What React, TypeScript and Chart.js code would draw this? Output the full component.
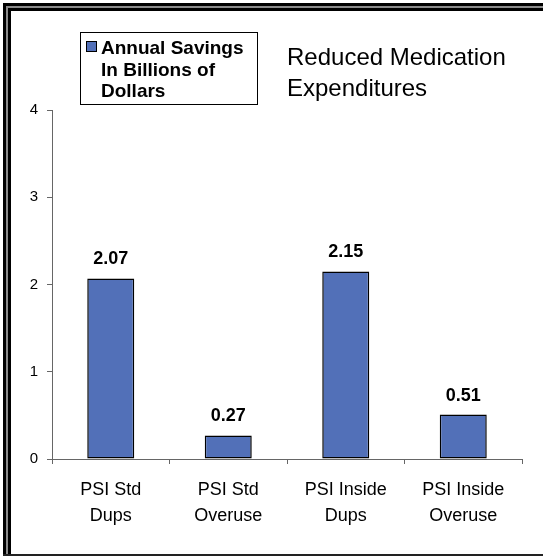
import React, { useEffect, useRef } from 'react';
import { Chart, registerables } from 'chart.js';

Chart.register(...registerables);

// ---- data ----
const categories: string[][] = [
  ['PSI Std', 'Dups'],
  ['PSI Std', 'Overuse'],
  ['PSI Inside', 'Dups'],
  ['PSI Inside', 'Overuse'],
];
const savings: number[] = [2.07, 0.27, 2.15, 0.51];
const yTickValues: number[] = [0, 1, 2, 3, 4];
const seriesLabel = 'Annual Savings In Billions of Dollars';
const legendLines: string[] = ['Annual Savings', 'In Billions of', 'Dollars'];
const titleLines: string[] = ['Reduced Medication', 'Expenditures'];

const BAR_COLOR = '#5270B8';
const AXIS_COLOR = '#666666';
const FONT = '"Liberation Sans", Arial, sans-serif';

const framePlugin = {
  id: 'frame',
  beforeDraw(chart: any) {
    const ctx = chart.ctx;
    const w = chart.width;
    const h = chart.height;
    ctx.save();
    ctx.fillStyle = '#ffffff';
    ctx.fillRect(0, 0, w, h);
    ctx.fillStyle = '#000000';
    ctx.fillRect(3, 3, 3, h - 3);
    ctx.fillRect(3, 3, w - 3, 3);
    ctx.fillStyle = '#8a8a8a';
    ctx.fillRect(6, 6, 2, h - 6);
    ctx.fillRect(6, 6, w - 6, 2);
    ctx.fillStyle = '#000000';
    ctx.fillRect(8, 8, 3, h - 8);
    ctx.fillRect(8, 8, w - 8, 3);
    ctx.fillStyle = '#222222';
    ctx.fillRect(3, h - 2, w - 3, 2);
    ctx.restore();
  },
};

const headerPlugin = {
  id: 'header',
  afterDraw(chart: any) {
    const ctx = chart.ctx;
    ctx.save();
    // legend box
    ctx.strokeStyle = '#000000';
    ctx.lineWidth = 1;
    ctx.strokeRect(80.5, 32.5, 177, 72);
    // legend marker
    const ds = chart.data.datasets[0];
    ctx.fillStyle = ds.backgroundColor;
    ctx.fillRect(86.5, 41.5, 10, 10);
    ctx.strokeRect(86.5, 41.5, 10, 10);
    // legend text
    ctx.fillStyle = '#000000';
    ctx.font = `bold 19px ${FONT}`;
    ctx.textAlign = 'left';
    ctx.textBaseline = 'alphabetic';
    legendLines.forEach((line, i) => {
      ctx.fillText(line, 101, 54 + i * 21.5);
    });
    // title
    ctx.font = `24px ${FONT}`;
    titleLines.forEach((line, i) => {
      ctx.fillText(line, 287, 65 + i * 31);
    });
    ctx.restore();
  },
};

const valueLabelPlugin = {
  id: 'valueLabels',
  afterDatasetsDraw(chart: any) {
    const ctx = chart.ctx;
    const meta = chart.getDatasetMeta(0);
    const values = chart.data.datasets[0].data as number[];
    ctx.save();
    ctx.fillStyle = '#000000';
    ctx.font = `bold 18px ${FONT}`;
    ctx.textAlign = 'center';
    ctx.textBaseline = 'alphabetic';
    meta.data.forEach((bar: any, i: number) => {
      ctx.fillText(values[i].toFixed(2), bar.x, bar.y - 14);
    });
    ctx.restore();
  },
};

export default function App() {
  const canvasRef = useRef<HTMLCanvasElement | null>(null);

  useEffect(() => {
    if (!canvasRef.current) return;
    const chart = new Chart(canvasRef.current, {
      type: 'bar',
      data: {
        labels: categories as any,
        datasets: [
          {
            label: seriesLabel,
            data: savings,
            backgroundColor: BAR_COLOR,
            borderColor: '#000000',
            borderWidth: 1.5,
            borderSkipped: false,
            barPercentage: 0.4,
            categoryPercentage: 1,
          },
        ],
      },
      options: {
        responsive: false,
        animation: false,
        devicePixelRatio: 1,
        layout: { padding: { top: 110, left: 12, right: 21, bottom: 10 } },
        plugins: {
          legend: { display: false },
          title: { display: false },
          tooltip: { enabled: false },
        },
        scales: {
          x: {
            type: 'category',
            grid: {
              display: true,
              drawOnChartArea: false,
              drawTicks: true,
              tickLength: 5,
              offset: true,
              color: AXIS_COLOR,
            },
            border: { display: true, color: AXIS_COLOR, width: 1 },
            ticks: {
              color: '#000000',
              font: { family: FONT, size: 18, lineHeight: 1.44 },
              padding: 13,
              maxRotation: 0,
              autoSkip: false,
            },
            afterFit(scale: any) {
              scale.height = 556 - 10 - 459;
            },
          },
          y: {
            min: 0,
            max: 4,
            grid: {
              display: true,
              drawOnChartArea: false,
              drawTicks: true,
              tickLength: 5,
              color: AXIS_COLOR,
            },
            border: { display: true, color: AXIS_COLOR, width: 1 },
            ticks: {
              color: '#000000',
              font: { family: FONT, size: 15 },
              padding: 9,
              stepSize: 1,
            },
            afterBuildTicks(scale: any) {
              scale.ticks = yTickValues.map((v) => ({ value: v }));
            },
            afterFit(scale: any) {
              scale.width = 52 - 12;
            },
          },
        },
      },
      plugins: [framePlugin, valueLabelPlugin, headerPlugin],
    });
    return () => chart.destroy();
  }, []);

  return (
    <div style={{ position: 'absolute', top: 0, left: 0, width: 543, height: 556 }}>
      <canvas ref={canvasRef} width={543} height={556} style={{ display: 'block' }} />
    </div>
  );
}
